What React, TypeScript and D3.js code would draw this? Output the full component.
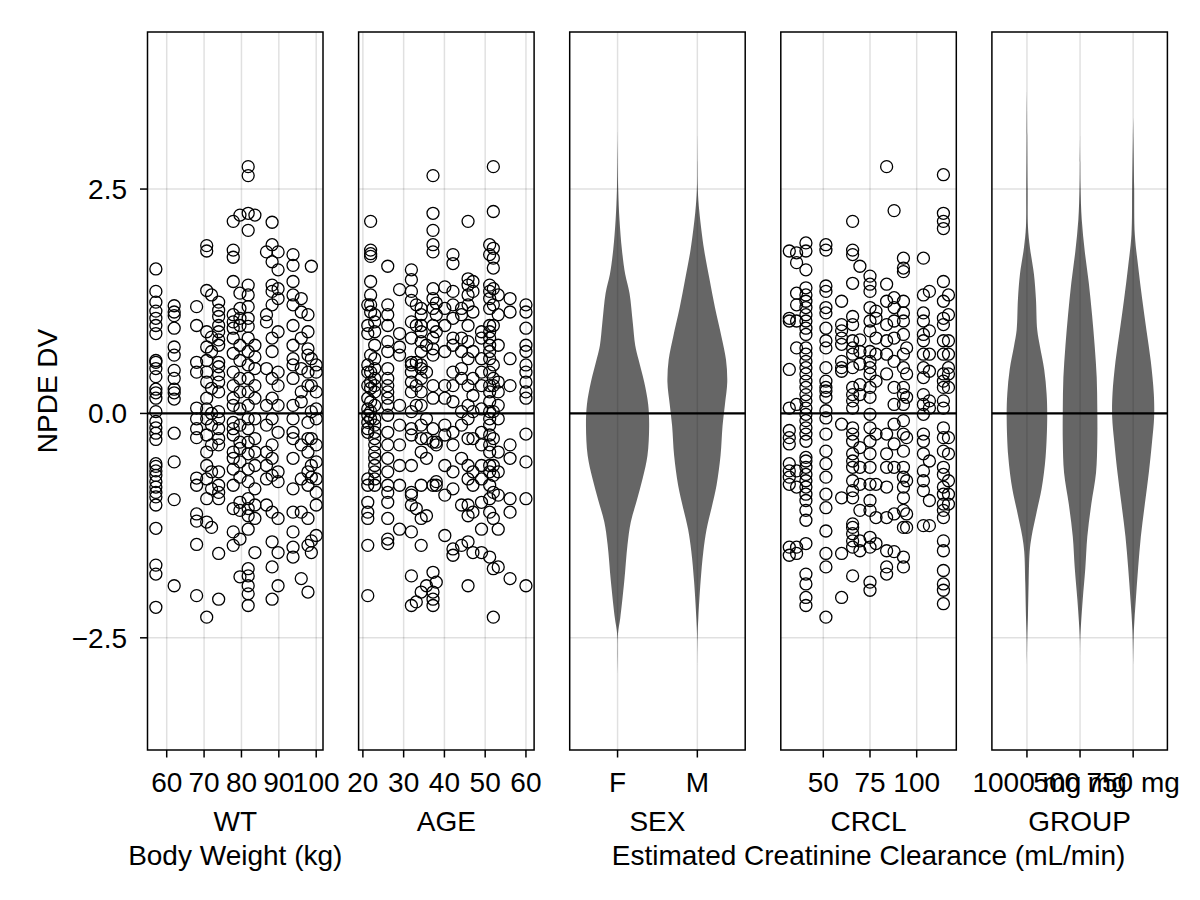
import React, { useEffect, useRef } from 'react';
import * as d3 from 'd3';

// NPDE values grouped by subject covariate value (one column of points per subject)
const wtColumns: [number, number[]][] = [
  [57.1, [1.61, 1.36, 1.24, 1.14, 1.06, 0.98, 0.89, 0.59, 0.57, 0.5, 0.41, 0.27, 0.23, 0.17, 0.02, -0.09, -0.16, -0.22, -0.29, -0.56, -0.59, -0.64, -0.69, -0.76, -0.82, -0.88, -0.93, -1.02, -1.28, -1.69, -1.79, -2.16]],
  [62.0, [1.2, 1.13, 1.09, 0.95, 0.74, 0.65, 0.48, 0.39, 0.27, 0.23, 0.16, -0.22, -0.54, -0.96, -1.92]],
  [68.0, [1.19, 0.98, 0.57, 0.46, 0.06, -0.06, -0.17, -0.27, -0.72, -0.8, -1.12, -1.2, -1.46, -2.03]],
  [70.7, [1.87, 1.81, 1.37, 0.91, 0.74, 0.59, 0.46, 0.35, 0.17, 0.05, -0.06, -0.24, -0.43, -0.58, -0.73, -0.95, -1.21, -2.27]],
  [72.0, [1.32, 0.85, 0.69, 0.28, 0.0, -0.13, -0.35, -0.65, -0.84, -1.27]],
  [73.9, [1.24, 1.15, 1.08, 0.98, 0.91, 0.82, 0.76, 0.57, 0.52, 0.43, 0.35, 0.24, 0.02, -0.06, -0.17, -0.28, -0.35, -0.65, -0.8, -0.88, -0.95, -1.56, -2.07]],
  [77.8, [2.14, 1.82, 1.74, 1.47, 1.1, 1.02, 0.95, 0.84, 0.67, 0.46, 0.31, 0.17, 0.09, -0.1, -0.17, -0.24, -0.43, -0.5, -0.62, -0.8, -1.06, -1.32, -1.47]],
  [79.6, [2.21, 1.34, 1.17, 1.06, 0.98, 0.76, 0.59, 0.39, 0.24, 0.05, -0.13, -0.32, -0.39, -0.54, -0.71, -0.99, -1.08, -1.4, -1.82]],
  [81.8, [2.75, 2.65, 2.23, 2.04, 1.43, 1.32, 1.19, 1.06, 0.97, 0.84, 0.69, 0.54, 0.39, 0.24, 0.09, -0.06, -0.17, -0.32, -0.45, -0.62, -0.76, -0.95, -1.06, -1.14, -1.29, -1.73, -1.81, -1.92, -2.01, -2.14]],
  [83.6, [2.21, 0.76, 0.63, 0.5, 0.31, 0.17, -0.06, -0.28, -0.43, -0.58, -0.84, -1.02, -1.17, -1.55]],
  [86.7, [1.8, 1.1, 1.02, 0.5, 0.09, -0.13, -0.43, -0.58, -0.73, -1.02]],
  [88.2, [2.13, 1.88, 1.69, 1.43, 1.36, 1.21, 0.84, 0.69, 0.39, 0.17, -0.06, -0.35, -0.5, -0.69, -1.1, -1.43, -1.71, -2.07]],
  [89.8, [1.8, 1.6, 1.39, 1.28, 0.91, 0.46, 0.31, 0.09, -0.21, -0.65, -0.76, -1.17, -1.55, -1.92]],
  [93.8, [1.77, 1.65, 1.47, 1.32, 1.21, 0.98, 0.76, 0.61, 0.54, 0.39, 0.09, -0.06, -0.21, -0.28, -0.5, -0.84, -1.1, -1.32, -1.49, -1.6]],
  [96.0, [1.28, 1.13, 0.84, 0.5, 0.24, 0.13, -0.35, -0.73, -1.1, -1.84]],
  [97.8, [1.1, 0.91, 0.72, 0.65, 0.46, 0.31, -0.1, -0.28, -0.43, -0.65, -0.8, -1.17, -1.47, -1.99]],
  [98.7, [1.64, 0.61, 0.31, 0.02, -0.28, -0.58, -0.71, -1.42, -1.55]],
  [100.0, [0.54, 0.46, 0.24, 0.05, -0.06, -0.35, -0.54, -0.73, -0.88, -1.02, -1.36]],
];

const ageColumns: [number, number[]][] = [
  [21.2, [1.21, 0.98, 0.89, 0.54, 0.46, 0.31, 0.17, 0.05, -0.02, -0.1, -0.17, -0.21, -0.73, -0.8, -0.99, -1.1, -1.17, -1.47, -2.03]],
  [21.9, [2.14, 1.82, 1.78, 1.75, 1.47, 1.32, 1.21, 1.13, 0.65, 0.46, 0.35, 0.28, 0.13, 0.02, -0.06]],
  [22.9, [1.1, 1.02, 0.91, 0.76, 0.61, 0.5, 0.39, 0.31, 0.24, 0.09, -0.06, -0.13, -0.21, -0.28, -0.35, -0.43, -0.5, -0.58, -0.65, -0.73, -0.8]],
  [26.1, [1.64, 1.21, 1.1, 0.98, 0.8, 0.69, 0.5, 0.39, 0.31, 0.24, 0.17, 0.09, -0.02, -0.21, -0.35, -0.5, -0.65, -0.8, -0.88, -0.99, -1.17, -1.4, -1.45]],
  [29.0, [1.38, 0.89, 0.74, 0.65, 0.09, -0.13, -0.35, -0.58, -0.8, -1.29]],
  [31.9, [1.6, 1.49, 1.36, 1.26, 1.02, 0.84, 0.57, 0.54, 0.46, 0.35, 0.24, 0.02, -0.17, -0.24, -0.58, -0.88, -0.91, -1.02, -1.32, -1.81, -2.14]],
  [33.1, [1.21, 0.98, 0.57, 0.31, 0.09, -1.06, -2.1]],
  [34.3, [1.17, 1.1, 0.98, 0.91, 0.8, 0.69, 0.54, 0.5, 0.39, 0.24, 0.09, -0.13, -0.28, -0.43, -0.8, -1.17, -1.47, -1.99]],
  [35.6, [0.76, 0.46, -0.06, -0.28, -0.5, -1.14, -1.92]],
  [37.2, [2.65, 2.23, 2.04, 1.88, 1.8, 1.39, 1.28, 1.17, 0.98, 0.84, 0.72, 0.65, 0.31, 0.17, -0.17, -0.32, -0.8, -1.77, -1.99, -2.07, -2.14]],
  [38.0, [1.23, 1.1, 0.91, -0.32, -0.35, -0.76, -0.8, -1.88]],
  [40.1, [1.41, 1.17, 0.98, 0.69, 0.31, 0.17, -0.13, -0.24, -0.58, -0.91, -1.36]],
  [42.1, [1.77, 1.67, 1.36, 1.21, 1.06, 0.84, 0.76, 0.46, 0.31, 0.13, -0.21, -0.35, -0.65, -0.84, -1.51, -1.58]],
  [44.2, [1.17, 1.1, 0.84, 0.69, 0.5, 0.39, 0.02, -0.13, -0.5, -1.02, -1.47]],
  [45.8, [2.14, 1.5, 1.43, 1.32, 1.21, 0.98, 0.8, 0.61, 0.31, 0.09, -0.06, -0.28, -0.58, -0.73, -1.02, -1.14, -1.43, -1.92]],
  [47.0, [1.47, 1.36, 1.13, 0.69, 0.39, 0.2, 0.02, -0.28, -0.65, -0.8, -1.1, -1.55]],
  [49.1, [0.91, 0.84, 0.61, 0.46, 0.31, 0.05, -0.21, -0.35, -0.58, -0.73, -0.99, -1.29, -1.55]],
  [51.1, [1.88, 1.77, 1.43, 1.36, 1.28, 1.17, 0.98, 0.91, 0.84, 0.76, 0.69, 0.61, 0.46, 0.31, 0.24, 0.13, 0.02, -0.06, -0.13, -0.24, -0.35, -0.43, -0.58, -0.65, -0.8, -0.95, -1.1, -1.6]],
  [52.0, [2.75, 2.25, 1.84, 1.73, 1.62, 1.39, 1.21, 0.98, 0.54, 0.39, 0.31, 0.02, -0.28, -0.58, -0.69, -0.88, -1.17, -1.73, -2.27]],
  [53.2, [1.32, 1.1, 0.76, 0.35, 0.24, 0.09, -0.06, -0.43, -0.65, -0.91, -1.29, -1.71]],
  [56.1, [1.28, 1.13, 0.61, 0.31, -0.35, -0.5, -0.95, -1.1, -1.84]],
  [60.0, [1.21, 1.13, 0.95, 0.76, 0.69, 0.54, 0.46, 0.35, 0.24, 0.17, -0.23, -0.54, -0.95, -1.92]],
];

const crclColumns: [number, number[]][] = [
  [31.8, [1.81, 1.06, 1.03, 0.49, 0.06, -0.19, -0.27, -0.34, -0.56, -0.64, -0.71, -0.79, -1.49, -1.58]],
  [35.7, [1.79, 1.68, 1.34, 1.21, 1.03, 0.73, 0.1, -0.64, -0.82, -1.49, -1.56]],
  [40.7, [1.9, 1.81, 1.6, 1.4, 1.32, 1.25, 1.18, 1.1, 1.03, 0.95, 0.88, 0.73, 0.66, 0.58, 0.51, 0.44, 0.36, 0.29, 0.21, 0.14, 0.06, -0.01, -0.08, -0.16, -0.23, -0.31, -0.49, -0.53, -0.6, -0.68, -0.75, -0.82, -0.9, -0.97, -1.08, -1.19, -1.45, -1.79, -1.9, -2.05, -2.14]],
  [51.4, [1.88, 1.82, 1.42, 1.36, 1.18, 1.12, 0.95, 0.81, 0.73, 0.51, 0.36, 0.29, 0.25, 0.18, 0.03, -0.05, -0.23, -0.42, -0.56, -0.71, -0.9, -1.05, -1.31, -1.56, -1.71, -2.27]],
  [59.8, [1.25, 0.99, 0.92, 0.84, 0.77, 0.58, 0.51, 0.47, -0.12, -0.94, -1.56, -2.05]],
  [65.7, [2.14, 1.82, 1.77, 1.45, 1.08, 0.99, 0.81, 0.73, 0.66, 0.51, 0.29, 0.21, 0.14, 0.06, -0.16, -0.23, -0.31, -0.45, -0.53, -0.6, -0.75, -0.86, -0.94, -1.23, -1.27, -1.34, -1.42, -1.49, -1.81]],
  [69.6, [1.64, 0.82, 0.69, 0.55, 0.32, 0.21, -0.38, -0.6, -0.79, -1.08, -1.42, -1.53]],
  [75.0, [1.53, 1.44, 1.36, 1.18, 1.03, 0.92, 0.69, 0.58, 0.51, 0.44, 0.29, 0.18, -0.01, -0.16, -0.31, -0.45, -0.6, -0.79, -0.97, -1.08, -1.38, -1.49, -1.88, -1.97]],
  [78.2, [1.14, 1.06, 0.84, 0.66, 0.36, -0.23, -0.79, -1.16, -1.45]],
  [83.9, [2.75, 1.44, 1.25, 0.99, 0.81, 0.66, 0.44, -0.23, -0.45, -0.6, -0.82, -1.16, -1.53, -1.71, -1.79]],
  [87.9, [2.26, 1.29, 1.18, 1.03, 0.84, 0.58, 0.29, 0.1, -0.12, -0.34, -0.6, -1.12, -1.54]],
  [92.9, [1.73, 1.62, 1.58, 1.25, 1.12, 1.03, 0.88, 0.66, 0.51, 0.29, 0.21, 0.1, -0.08, -0.23, -0.42, -0.6, -0.71, -0.82, -0.94, -1.08, -1.27, -1.6, -1.71]],
  [94.6, [0.73, 0.44, 0.18, -0.27, -0.75, -1.12, -1.27]],
  [103.6, [1.73, 1.32, 1.12, 1.03, 0.88, 0.81, 0.66, 0.51, 0.4, 0.21, 0.1, -0.01, -0.23, -0.31, -0.45, -0.64, -0.75, -0.86, -1.25]],
  [106.8, [1.36, 0.92, 0.66, 0.47, 0.14, 0.06, -0.53, -0.97, -1.25]],
  [114.3, [2.66, 2.23, 2.14, 2.06, 1.47, 1.25, 1.06, 0.99, 0.81, 0.66, 0.44, 0.36, 0.29, 0.14, 0.06, -0.16, -0.27, -0.42, -0.6, -0.68, -0.82, -0.9, -1.01, -1.08, -1.16, -1.42, -1.53, -1.75, -1.9, -1.97, -2.12]],
  [117.0, [1.32, 1.1, 0.81, 0.66, 0.51, 0.44, 0.29, -0.27, -0.45, -0.75, -0.9, -1.01]],
];

// violin density profiles: [NPDE, half width in category units]
const sexCategories = ['F', 'M'];
const violinF: [number, number][] = [
  [3.15, 0], [2.8, 0.003], [2.49, 0.008], [2.15, 0.025], [1.83, 0.054], [1.55, 0.096], [1.34, 0.15], [1.01, 0.191],
  [0.76, 0.221], [0.6, 0.263], [0.35, 0.334], [0.1, 0.384], [-0.14, 0.396], [-0.47, 0.375], [-0.72, 0.316],
  [-0.97, 0.241], [-1.21, 0.166], [-1.46, 0.125], [-1.87, 0.084], [-2.28, 0.034], [-2.45, 0.006], [-2.7, 0.002], [-2.9, 0],
];
const violinM: [number, number][] = [
  [3.1, 0], [2.8, 0.002], [2.49, 0.006], [2.25, 0.025], [1.83, 0.084], [1.51, 0.15], [1.18, 0.221], [0.85, 0.304],
  [0.6, 0.359], [0.35, 0.375], [0.1, 0.346], [-0.14, 0.316], [-0.47, 0.291], [-0.8, 0.241], [-1.05, 0.179],
  [-1.29, 0.116], [-1.54, 0.075], [-1.87, 0.041], [-2.28, 0.0125], [-2.49, 0.003], [-2.85, 0],
];

const groupCategories = ['1000 mg', '500 mg', '750 mg'];
const violin1000: [number, number][] = [
  [3.6, 0], [3.1, 0.006], [2.5, 0.013], [2.08, 0.019], [1.85, 0.056], [1.55, 0.132], [1.28, 0.169], [0.93, 0.194],
  [0.75, 0.244], [0.49, 0.325], [0.22, 0.37], [-0.04, 0.382], [-0.48, 0.352], [-0.84, 0.276], [-1.1, 0.182],
  [-1.37, 0.088], [-1.54, 0.051], [-1.89, 0.032], [-2.25, 0.019], [-2.51, 0.006], [-2.8, 0],
];
const violin500: [number, number][] = [
  [3.1, 0], [2.8, 0.004], [2.52, 0.009], [2.16, 0.032], [1.81, 0.088], [1.46, 0.164], [1.1, 0.226], [0.75, 0.276],
  [0.4, 0.314], [0.05, 0.325], [-0.31, 0.325], [-0.66, 0.301], [-1.01, 0.212], [-1.37, 0.137], [-1.72, 0.1],
  [-2.07, 0.051], [-2.34, 0.019], [-2.51, 0.004], [-2.8, 0],
];
const violin750: [number, number][] = [
  [3.3, 0], [3.05, 0.006], [2.52, 0.019], [1.99, 0.032], [1.64, 0.094], [1.28, 0.169], [0.93, 0.25], [0.58, 0.333],
  [0.22, 0.389], [-0.04, 0.395], [-0.31, 0.357], [-0.66, 0.295], [-1.01, 0.22], [-1.37, 0.145], [-1.72, 0.094],
  [-2.07, 0.051], [-2.42, 0.013], [-2.8, 0],
];

const yTicks = [-2.5, 0, 2.5];
const wtTicks = [60, 70, 80, 90, 100];
const ageTicks = [20, 30, 40, 50, 60];
const crclTicks = [50, 75, 100];

type Panel = {
  label: string;
  sub?: string;
  domain: [number, number];
  ticks?: number[];
  columns?: [number, number[]][];
  cats?: string[];
  shapes?: [number, number][][];
};

const panels: Panel[] = [
  { label: 'WT', sub: 'Body Weight (kg)', domain: [54.86, 101.82], ticks: wtTicks, columns: wtColumns },
  { label: 'AGE', domain: [18.95, 62.0], ticks: ageTicks, columns: ageColumns },
  { label: 'SEX', domain: [0.4, 2.6], cats: sexCategories, shapes: [violinF, violinM] },
  { label: 'CRCL', sub: 'Estimated Creatinine Clearance (mL/min)', domain: [27.25, 121.2], ticks: crclTicks, columns: crclColumns },
  { label: 'GROUP', domain: [0.34, 3.645], cats: groupCategories, shapes: [violin1000, violin500, violin750] },
];

export default function App() {
  const svgRef = useRef<SVGSVGElement>(null);

  useEffect(() => {
    if (!svgRef.current) return;
    const svg = d3.select(svgRef.current);
    svg.selectAll('*').remove();

    const top = 32;
    const bottom = 750;
    const left0 = 147.5;
    const panelW = 175.5;
    const step = 211.1;
    const font = '"Liberation Sans", Arial, Helvetica, sans-serif';
    const fs = 28;
    const grid = 'rgba(0,0,0,0.12)';

    const y = d3.scaleLinear().domain([-3.75, 4.25]).range([bottom, top]);
    const fmt = d3.format('.1f');

    svg.append('rect').attr('width', 1200).attr('height', 900).attr('fill', '#fff');

    panels.forEach((p, i) => {
      const x0 = left0 + i * step;
      const x1 = x0 + panelW;
      const x = d3.scaleLinear().domain(p.domain).range([x0, x1]);
      const g = svg.append('g');

      const tickVals = p.cats ? p.cats.map((_, k) => k + 1) : (p.ticks as number[]);
      const tickText = p.cats ? p.cats : tickVals.map(String);

      // grid
      g.selectAll('.vg').data(tickVals).enter().append('line')
        .attr('x1', (d) => x(d)).attr('x2', (d) => x(d))
        .attr('y1', top).attr('y2', bottom)
        .attr('stroke', grid).attr('stroke-width', 1.5);
      g.selectAll('.hg').data(yTicks).enter().append('line')
        .attr('x1', x0).attr('x2', x1)
        .attr('y1', (d) => y(d)).attr('y2', (d) => y(d))
        .attr('stroke', grid).attr('stroke-width', 1.5);

      if (p.columns) {
        const pts = p.columns.flatMap(([cov, vals]) => vals.map((v) => [cov, v] as [number, number]));
        g.selectAll('.pt').data(pts).enter().append('circle')
          .attr('cx', (d) => x(d[0]))
          .attr('cy', (d) => y(d[1]))
          .attr('r', 6)
          .attr('fill', 'none')
          .attr('stroke', '#000')
          .attr('stroke-width', 1.3);
      }

      if (p.shapes) {
        p.shapes.forEach((shape, k) => {
          const c = k + 1;
          const area = d3.area<[number, number]>()
            .y((d) => y(d[0]))
            .x0((d) => x(c - d[1]))
            .x1((d) => x(c + d[1]))
            .curve(d3.curveCatmullRom);
          g.append('path')
            .attr('d', area(shape) as string)
            .attr('fill', '#000')
            .attr('fill-opacity', 0.6);
        });
      }

      // reference line at 0
      g.append('line')
        .attr('x1', x0).attr('x2', x1)
        .attr('y1', y(0)).attr('y2', y(0))
        .attr('stroke', '#000').attr('stroke-width', 2.2);

      // frame
      g.append('rect')
        .attr('x', x0).attr('y', top)
        .attr('width', panelW).attr('height', bottom - top)
        .attr('fill', 'none').attr('stroke', '#000').attr('stroke-width', 1.5);

      // x ticks
      g.selectAll('.xt').data(tickVals).enter().append('line')
        .attr('x1', (d) => x(d)).attr('x2', (d) => x(d))
        .attr('y1', bottom).attr('y2', bottom + 7.5)
        .attr('stroke', '#000').attr('stroke-width', 1.5);
      g.selectAll('.xl').data(tickVals).enter().append('text')
        .attr('x', (d) => x(d)).attr('y', 792)
        .attr('text-anchor', 'middle')
        .style('font-family', font).style('font-size', `${fs}px`)
        .text((_, k) => tickText[k]);

      const cx = (x0 + x1) / 2;
      g.append('text')
        .attr('x', cx).attr('y', 831)
        .attr('text-anchor', 'middle')
        .style('font-family', font).style('font-size', `${fs}px`)
        .text(p.label);
      if (p.sub) {
        g.append('text')
          .attr('x', cx).attr('y', 865)
          .attr('text-anchor', 'middle')
          .style('font-family', font).style('font-size', `${fs}px`)
          .text(p.sub);
      }
    });

    // y axis on first panel
    const ya = svg.append('g');
    ya.selectAll('line').data(yTicks).enter().append('line')
      .attr('x1', left0 - 7.5).attr('x2', left0)
      .attr('y1', (d) => y(d)).attr('y2', (d) => y(d))
      .attr('stroke', '#000').attr('stroke-width', 1.5);
    ya.selectAll('text').data(yTicks).enter().append('text')
      .attr('x', 127).attr('y', (d) => y(d))
      .attr('dy', '0.35em')
      .attr('text-anchor', 'end')
      .style('font-family', font).style('font-size', `${fs}px`)
      .text((d) => fmt(d));
    svg.append('text')
      .attr('transform', `translate(57,${(top + bottom) / 2}) rotate(-90)`)
      .attr('text-anchor', 'middle')
      .style('font-family', font).style('font-size', `${fs}px`)
      .text('NPDE DV');
  }, []);

  return (
    <div>
      <style>{'body{margin:0}'}</style>
      <svg ref={svgRef} width={1200} height={900} style={{ display: 'block' }}></svg>
    </div>
  );
}
